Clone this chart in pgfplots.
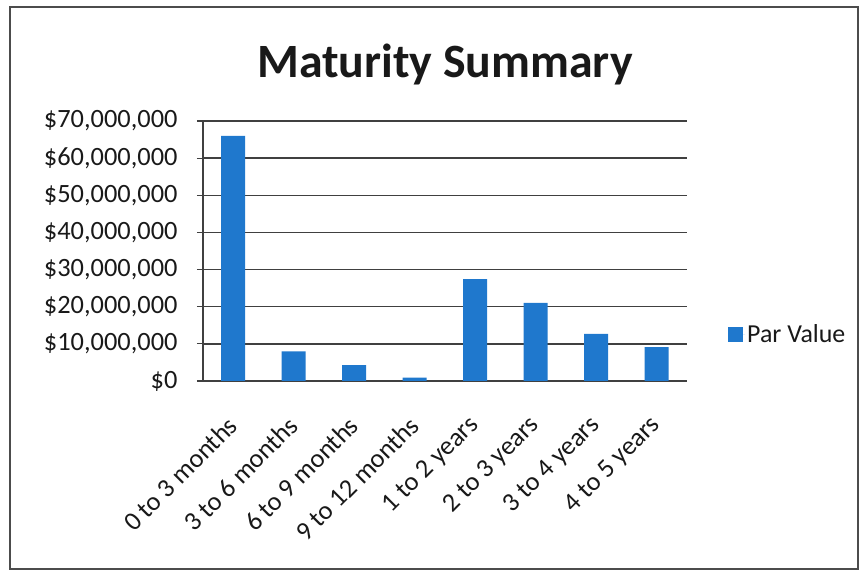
\documentclass[border=0pt]{standalone}
\usepackage{pgfplots}
\pgfplotsset{compat=1.18}
\usepackage{fontspec}
\setmainfont{Carlito}
\definecolor{barblue}{RGB}{31,120,205}
\definecolor{txt}{RGB}{25,25,25}
\begin{document}
\begin{tikzpicture}
\path[use as bounding box] (0bp,0bp) rectangle (867bp,574bp);
\draw[line width=1.5bp, black!70] (10bp,5bp) rectangle (858bp,567bp);
\node[font=\fontsize{48}{52}\selectfont\bfseries, text=txt] at (445bp,510bp) {Maturity Summary};
\begin{axis}[
  at={(203bp,193bp)}, anchor=south west,
  scale only axis, width=484bp, height=260bp,
  xmin=-0.5, xmax=7.5, ymin=0, ymax=70000000,
  axis lines*=left,
  axis line style={line width=1.2bp, black!75},
  ymajorgrids, grid style={line width=1.3bp, black!75},
  ytick={0,10000000,20000000,30000000,40000000,50000000,60000000,70000000},
  yticklabels={\$0,{\$10,000,000},{\$20,000,000},{\$30,000,000},{\$40,000,000},{\$50,000,000},{\$60,000,000},{\$70,000,000}},
  scaled y ticks=false,
  xtick={0,1,2,3,4,5,6,7},
  xticklabels={0 to 3 months,3 to 6 months,6 to 9 months,9 to 12 months,1 to 2 years,2 to 3 years,3 to 4 years,4 to 5 years},
  minor xtick={-0.5,0.5,1.5,2.5,3.5,4.5,5.5,6.5,7.5},
  xtick style={draw=none},
  minor x tick style={line width=1.2bp, black!75},
  y tick style={line width=1.2bp, black!75},
  tick align=outside, major tick length=6bp, minor tick length=6bp,
  ticklabel style={font=\fontsize{26.5}{29}\selectfont, text=txt},
  yticklabel style={xshift=-16bp},
  xticklabel style={rotate=45, anchor=east, xshift=-21bp, yshift=-24bp},
  legend style={draw=none, fill=none, at={(1,0.18)}, anchor=west, xshift=38bp,
    font=\fontsize{26}{29}\selectfont, text=txt},
  legend image code/.code={\fill[barblue] (0bp,-7.5bp) rectangle (15bp,7.5bp); \path (15bp,0bp) -- (17bp,0bp);},
]
\addplot[ybar, bar width=24bp, fill=barblue, draw=none] coordinates {
  (0,66000000) (1,8000000) (2,4300000) (3,900000)
  (4,27400000) (5,21000000) (6,12700000) (7,9100000)};
\addlegendentry{Par Value}
\end{axis}
\end{tikzpicture}
\end{document}
